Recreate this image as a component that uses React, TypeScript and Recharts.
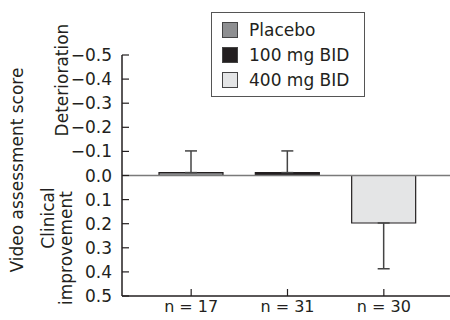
import React from "react";
import { BarChart, Bar, XAxis, YAxis, ErrorBar, ReferenceLine, Cell } from "recharts";

const groups = ["Placebo", "100 mg BID", "400 mg BID"];
const sampleLabels = ["n = 17", "n = 31", "n = 30"];
const meanScores = [-0.012, -0.012, 0.197];
const errLow = [0.09, 0.09, 0];
const errHigh = [0, 0, 0.19];
const yTicks = [-0.5, -0.4, -0.3, -0.2, -0.1, 0, 0.1, 0.2, 0.3, 0.4, 0.5];

const fills = ["#8e8f91", "#231f20", "#e4e5e6"];
const ink = "#231f20";
const font = "'DejaVu Sans', sans-serif";

const data = groups.map((g, i) => ({
  group: g,
  n: sampleLabels[i],
  score: meanScores[i],
  err: [errLow[i], errHigh[i]],
}));

function YTick(props: any) {
  const { x, y, payload } = props;
  const v = payload.value as number;
  const label = v < 0 ? "\u2212" + Math.abs(v).toFixed(1) : v.toFixed(1);
  return (
    <g>
      <line x1={x + 10} x2={x + 17} y1={y} y2={y} stroke={ink} strokeWidth={1.2} />
      <text x={x} y={y} dy={6} textAnchor="end" fontSize={17} fill={ink} fontFamily={font}>
        {label}
      </text>
    </g>
  );
}

function XTick(props: any) {
  const { x, y, index } = props;
  return (
    <g>
      <line x1={x} x2={x} y1={y} y2={y - 7} stroke={ink} strokeWidth={1.2} />
      <text x={x} y={y} dy={16} textAnchor="middle" fontSize={16} fill={ink} fontFamily={font}>
        {sampleLabels[index]}
      </text>
    </g>
  );
}

function Legend() {
  return (
    <div
      style={{
        position: "absolute",
        left: 211,
        top: 12,
        width: 152,
        height: 83,
        border: "1px solid #555",
        background: "#fff",
        fontFamily: font,
        fontSize: 17,
        color: ink,
      }}
    >
      {groups.map((g, i) => (
        <div
          key={g}
          style={{ position: "absolute", left: 10, top: 9 + i * 25, height: 16, display: "flex", alignItems: "center" }}
        >
          <span
            style={{
              width: 14,
              height: 14,
              background: fills[i],
              border: "1px solid #444",
              display: "inline-block",
              marginRight: 11,
            }}
          />
          <span style={{ whiteSpace: "nowrap" }}>{g}</span>
        </div>
      ))}
    </div>
  );
}

function AxisTitles() {
  const txt = (x: number, y: number, s: string) => (
    <text
      x={x}
      y={y}
      transform={`rotate(-90 ${x} ${y})`}
      textAnchor="middle"
      fontSize={17}
      fill={ink}
      fontFamily={font}
    >
      {s}
    </text>
  );
  return (
    <svg width={120} height={320} style={{ position: "absolute", left: 0, top: 0 }}>
      {txt(23, 170, "Video assessment score")}
      {txt(68, 80, "Deterioration")}
      {txt(54, 218, "Clinical")}
      {txt(72, 248, "improvement")}
    </svg>
  );
}

export default function App() {
  return (
    <div style={{ position: "absolute", left: 0, top: 0, width: 450, height: 320, background: "#fff" }}>
      <BarChart
        width={450}
        height={320}
        data={data}
        margin={{ top: 55, right: 0, bottom: 0, left: 0 }}
        barCategoryGap={16}
      >
        <XAxis
          dataKey="group"
          height={24}
          padding={{ left: 21, right: 18 }}
          axisLine={{ stroke: ink, strokeWidth: 1.5 }}
          tickLine={false}
          tickSize={0}
          tickMargin={0}
          tick={<XTick />}
          interval={0}
        />
        <YAxis
          width={122}
          type="number"
          domain={[-0.5, 0.5]}
          reversed
          ticks={yTicks}
          interval={0}
          axisLine={{ stroke: ink, strokeWidth: 1.5 }}
          tickLine={false}
          tickSize={0}
          tickMargin={10}
          tick={<YTick />}
        />
        <ReferenceLine y={0} stroke="#7a7a7a" strokeWidth={1.5} />
        <Bar dataKey="score" stroke={ink} strokeWidth={1.2} isAnimationActive={false}>
          {data.map((d, i) => (
            <Cell key={d.group} fill={fills[i]} />
          ))}
          <ErrorBar dataKey="err" direction="y" width={6} stroke="#444" strokeWidth={1.5} />
        </Bar>
      </BarChart>
      <AxisTitles />
      <Legend />
    </div>
  );
}
